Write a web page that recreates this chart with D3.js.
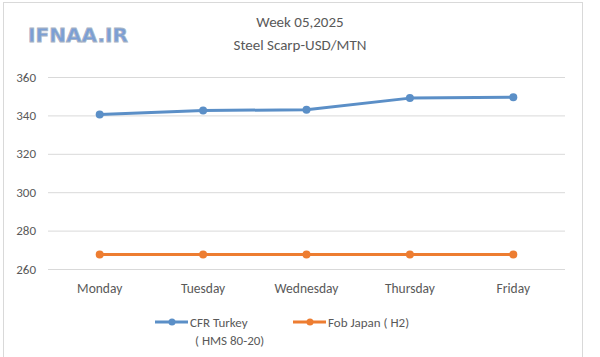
<!DOCTYPE html>
<html><head><meta charset="utf-8">
<script src="https://cdn.jsdelivr.net/npm/d3@7"></script>
<style>body{margin:0;background:#fff}</style>
</head><body>
<svg id="c" width="600" height="357"></svg>
<script>
const categories = ["Monday","Tuesday","Wednesday","Thursday","Friday"];
const cfrTurkey = [340.5, 342.5, 343, 349, 349.5];
const fobJapan = [267.5, 267.5, 267.5, 267.5, 267.5];
const yTicks = [260, 280, 300, 320, 340, 360];
const seriesNames = [["CFR Turkey","( HMS 80-20)"],["Fob Japan ( H2)"]];
const colors = ["#5b8fc7", "#ed7d31"];

const svg = d3.select("#c");
const font = "Calibri, Carlito, 'Open Sans', sans-serif";
svg.append("rect").attr("x",3.5).attr("y",2.5).attr("width",579).attr("height",360)
  .attr("fill","#fff").attr("stroke","#d9d9d9");

const x = d3.scaleBand().domain(categories).range([48,565]);
const y = d3.scaleLinear().domain([260,360]).range([269,77]);

// grid
svg.append("g").selectAll("line").data(yTicks).join("line")
  .attr("x1",48).attr("x2",565).attr("y1",d=>y(d)+0.5).attr("y2",d=>y(d)+0.5)
  .attr("stroke","#d9d9d9").attr("stroke-width",1);

const yAxis = svg.append("g").attr("transform","translate(48,0)")
  .call(d3.axisLeft(y).tickValues(yTicks).tickSize(0).tickPadding(12));
yAxis.select(".domain").remove();
yAxis.selectAll("text").attr("font-family",font).attr("font-size",13).attr("fill","#595959");

const xAxis = svg.append("g").attr("transform","translate(0,269)")
  .call(d3.axisBottom(x).tickSize(0).tickPadding(14));
xAxis.select(".domain").remove();
xAxis.selectAll("text").attr("font-family",font).attr("font-size",13.5).attr("fill","#595959");

const cx = d => x(d) + x.bandwidth()/2;
[cfrTurkey, fobJapan].forEach((vals,i)=>{
  const pts = categories.map((c,j)=>[cx(c), y(vals[j])]);
  svg.append("path").attr("d", d3.line()(pts)).attr("fill","none")
    .attr("stroke",colors[i]).attr("stroke-width",3).attr("stroke-linejoin","round");
  svg.append("g").selectAll("circle").data(pts).join("circle")
    .attr("cx",d=>d[0]).attr("cy",d=>d[1]).attr("r",4).attr("fill",colors[i]);
});

// legend
const leg = [{x:155, tx:190}, {x:293, tx:328}];
seriesNames.forEach((names,i)=>{
  const g = svg.append("g");
  g.append("line").attr("x1",leg[i].x).attr("x2",leg[i].x+33).attr("y1",322).attr("y2",322)
    .attr("stroke",colors[i]).attr("stroke-width",3);
  g.append("circle").attr("cx",leg[i].x+17).attr("cy",322).attr("r",3.5).attr("fill",colors[i]);
  names.forEach((n,k)=>{
    g.append("text").attr("x",leg[i].tx + (k?5:0)).attr("y",322+k*18).attr("dy","0.35em")
      .attr("font-family",font).attr("font-size",13).attr("fill","#595959").text(n);
  });
});

// titles
svg.append("text").attr("x",300).attr("y",22).attr("dy","0.35em").attr("text-anchor","middle")
  .attr("font-family",font).attr("font-size",15).attr("fill","#595959").text("Week 05,2025");
svg.append("text").attr("x",300).attr("y",45).attr("dy","0.35em").attr("text-anchor","middle")
  .attr("font-family",font).attr("font-size",15).attr("fill","#595959").text("Steel Scarp-USD/MTN");

// logo
svg.append("text").attr("x",28).attr("y",35).attr("dy","0.35em")
  .attr("font-family","'DejaVu Sans', sans-serif").attr("font-weight","bold").attr("font-size",20)
  .attr("fill","#7b9fd6").attr("stroke","#aab4c4").attr("stroke-width",0.8)
  .attr("textLength",100).attr("lengthAdjust","spacingAndGlyphs").text("IFNAA.IR");
</script>
</body></html>
